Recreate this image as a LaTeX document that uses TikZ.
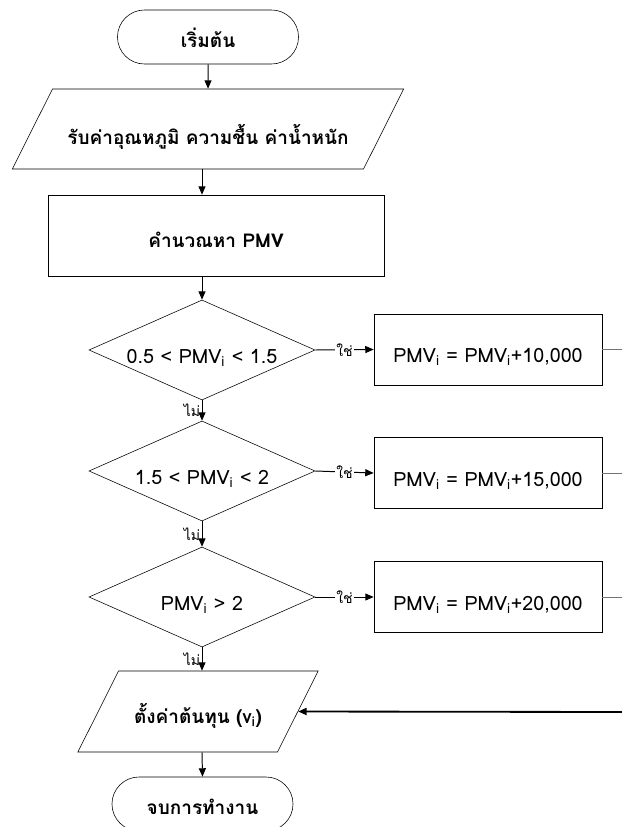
\documentclass[tikz,border=0pt]{standalone}
\usepackage{fontspec}
\setmainfont[Script=Thai]{Loma}
\usetikzlibrary{shapes.geometric,shapes.misc,arrows.meta}

\begin{document}
\begin{tikzpicture}[x=0.025cm,y=-0.025cm,
  term/.style={draw,rounded rectangle,minimum width=4.525cm,inner sep=0pt,text height=0.925cm,text depth=0.425cm,font=\fontsize{13.5}{16}\selectfont\bfseries},
  io/.style={draw,trapezium,trapezium left angle=63.4,trapezium right angle=116.6,inner sep=0pt,align=center,font=\fontsize{13.5}{16}\selectfont\bfseries},
  proc/.style={draw,rectangle,minimum width=8.4cm,inner sep=0pt,text height=1.3cm,text depth=0.725cm,font=\fontsize{13.5}{16}\selectfont\bfseries},
  cond/.style={draw,diamond,aspect=2.26,minimum width=5.65cm,minimum height=2.5cm,inner sep=0pt,text height=0.65cm,text depth=0pt,font=\fontsize{14}{16}\selectfont},
  calcbox/.style={draw,rectangle,minimum width=5.7cm,minimum height=1.775cm,inner sep=0pt,text height=0.65cm,text depth=0pt,font=\fontsize{14}{16}\selectfont},
  flow/.style={-{Triangle[length=6pt,width=5pt]},line width=0.7pt},
  lbl/.style={font=\fontsize{10}{11}\selectfont,inner sep=1pt}]
\clip (0,0) rectangle (622,827);
% main column
\node[term] (start) at (208,37) {เริ่มต้น};
\node[io,text width=7.775cm,text height=1.375cm,text depth=0.625cm] (input) at (208,129) {รับค่าอุณหภูมิ ความชื้น ค่าน้ำหนัก};
\node[proc] (calc) at (216,235.5) {คำนวณหา PMV};
\node[cond] (c1) at (202,350) {0.5 < PMV\textsubscript{i} < 1.5};
\node[cond] (c2) at (202,471) {1.5 < PMV\textsubscript{i} < 2};
\node[cond] (c3) at (202,597) {PMV\textsubscript{i} > 2};
\node[io,text width=3.975cm,text height=1.3cm,text depth=0.725cm] (cost) at (198,711.5) {ตั้งค่าต้นทุน (v\textsubscript{i})};
\node[term] (stop) at (202.5,804) {จบการทำงาน};
% right column
\node[calcbox] (b1) at (488,349.5) {PMV\textsubscript{i} = PMV\textsubscript{i}+10,000};
\node[calcbox] (b2) at (488,473) {PMV\textsubscript{i} = PMV\textsubscript{i}+15,000};
\node[calcbox] (b3) at (488,597) {PMV\textsubscript{i} = PMV\textsubscript{i}+20,000};
\coordinate (r1) at (622,349.5);
\coordinate (r2) at (622,473);
\coordinate (r3) at (622,597);
\coordinate (r4) at (622,712);

\draw[flow] (start) -- (input);
\draw[flow] (c1.north |- input.south) -- (c1.north |- calc.north);
\draw[flow] (c1.north |- calc.south) -- (c1.north);
\draw[flow] (c1.south) -- node[lbl,left]{ไม่} (c2.north);
\draw[flow] (c2.south) -- node[lbl,left]{ไม่} (c3.north);
\draw[flow] (c3.south) -- node[lbl,left]{ไม่} (c3.south |- cost.north);
\draw[flow] (c3.south |- cost.south) -- (stop.north);

\draw[flow] (c1.east) -- node[lbl,fill=white]{ใช่} (b1.west);
\draw[flow] (c2.east) -- node[lbl,fill=white]{ใช่} (b2.west);
\draw[flow] (c3.east) -- node[lbl,fill=white]{ใช่} (b3.west);
\draw[black!55,line width=0.7pt] (b1.east) -- (r1);
\draw[black!55,line width=0.7pt] (b2.east) -- (r2);
\draw[black!55,line width=0.7pt] (b3.east) -- (r3);
\draw[flow,line width=1.3pt] (r4) -- (cost.east);
\end{tikzpicture}
\end{document}
